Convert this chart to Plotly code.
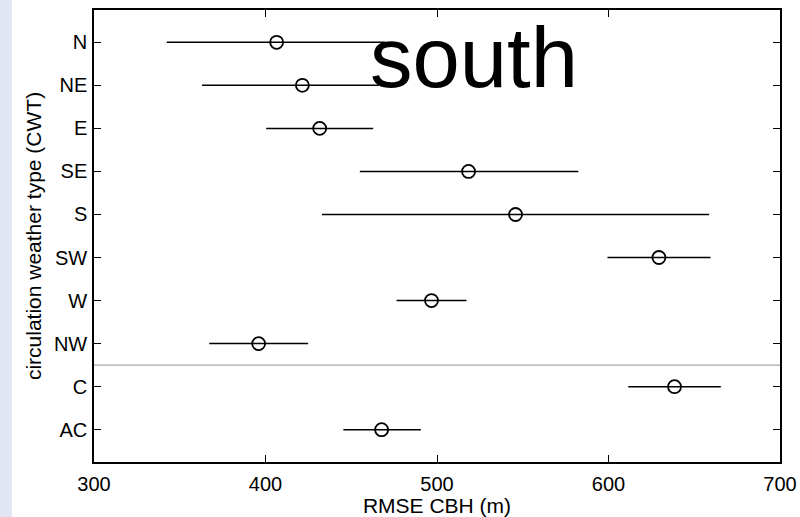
import plotly.graph_objects as go

categories = ["N", "NE", "E", "SE", "S", "SW", "W", "NW", "C", "AC"]
rmse_mean = [406.5, 421.5, 431.6, 518.4, 545.8, 629.4, 496.8, 396.0, 638.5, 467.7]
rmse_low = [342.4, 363.0, 400.4, 455.0, 432.9, 599.4, 476.4, 367.2, 611.5, 445.4]
rmse_high = [469.6, 466.0, 462.8, 582.4, 658.7, 659.5, 517.2, 424.9, 665.5, 490.6]
x_ticks = [300, 400, 500, 600, 700]
panel_label = "south"

err_plus = [h - m for h, m in zip(rmse_high, rmse_mean)]
err_minus = [m - l for m, l in zip(rmse_mean, rmse_low)]
ypos = list(range(1, len(categories) + 1))

FONT = "Liberation Sans, Arial, Helvetica, sans-serif"

fig = go.Figure()
fig.add_trace(go.Scatter(
    x=rmse_mean, y=ypos, mode="markers",
    marker=dict(symbol="circle-open", size=13, color="black", line=dict(width=1.8, color="black")),
    error_x=dict(type="data", symmetric=False, array=err_plus, arrayminus=err_minus,
                 width=0, thickness=1.5, color="black"),
    showlegend=False, hoverinfo="skip",
))

fig.update_layout(
    width=800, height=517,
    margin=dict(l=94, r=20, t=10, b=55),
    paper_bgcolor="white", plot_bgcolor="white",
    font=dict(family=FONT, size=20, color="black"),
    xaxis=dict(range=[300, 700], tickvals=x_ticks, ticks="inside", ticklen=7, tickwidth=1.3,
               tickcolor="black", showline=True, linecolor="black", linewidth=1.5, mirror="ticks",
               showgrid=False, zeroline=False, ticklabelstandoff=3, tickfont=dict(size=20),
               automargin=False,
               title=dict(text="RMSE CBH (m)", standoff=3, font=dict(size=21))),
    yaxis=dict(range=[10.75, 0.25], tickvals=ypos, ticktext=categories, ticks="inside", ticklen=7,
               tickwidth=1.3, tickcolor="black", showline=True, linecolor="black", linewidth=1.5,
               mirror="ticks", showgrid=False, zeroline=False, ticklabelstandoff=1, tickfont=dict(size=20),
               automargin=False,
               title=dict(text="circulation weather type (CWT)", standoff=7, font=dict(size=21))),
    shapes=[
        dict(type="line", xref="paper", yref="y", x0=0, x1=1, y0=8.5, y1=8.5,
             line=dict(color="#aaaaaa", width=1.2)),
        dict(type="rect", xref="paper", yref="paper", x0=-94/686, x1=-82/686, y0=-55/452, y1=1 + 10/452,
             fillcolor="#e1e7f2", line=dict(width=0), layer="below"),
    ],
    annotations=[dict(text=panel_label, xref="paper", yref="paper", x=(368 - 94) / 686, y=1 - (8 - 10) / 452,
                      xanchor="left", yanchor="top", showarrow=False,
                      font=dict(family=FONT, size=85, color="black"))],
)

fig.write_html("out.html")
